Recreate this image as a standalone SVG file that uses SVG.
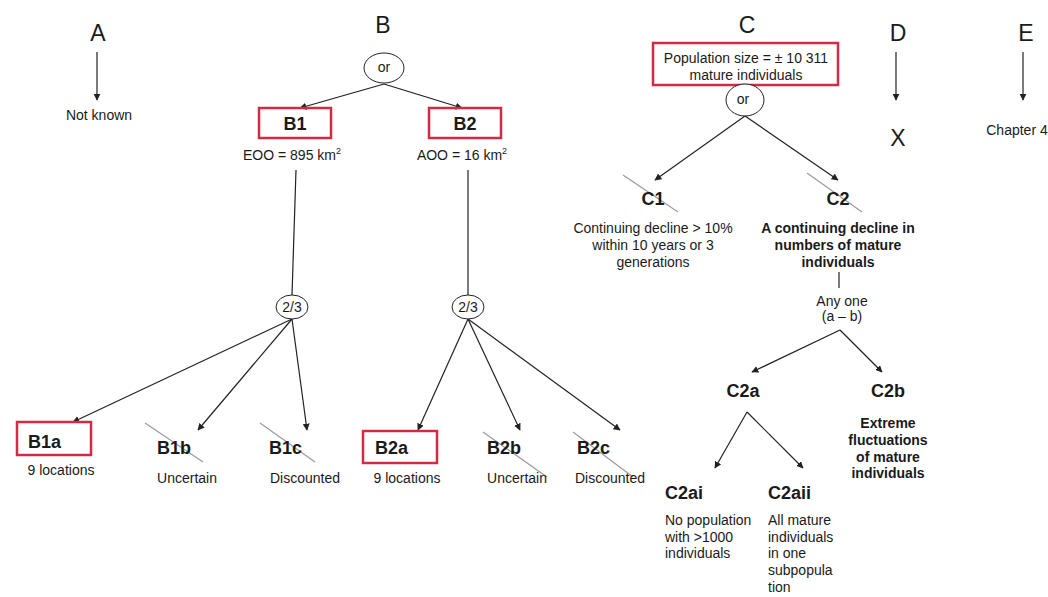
<svg xmlns="http://www.w3.org/2000/svg" width="1048" height="597" viewBox="0 0 1048 597">
<style>
text{font-family:"Liberation Sans",Arial,sans-serif;fill:#1a1a1a}
.hd{font-size:23px}
.lbl{font-size:18px;font-weight:bold}
.sm{font-size:14px}
.smb{font-size:14px;font-weight:bold}
.c{text-anchor:middle}
.box{fill:none;stroke:#d42a45;stroke-width:2.5}
.ell{fill:#fff;stroke:#222;stroke-width:1}
.ln{stroke:#222;stroke-width:1.2;fill:none}
.ar{stroke:#222;stroke-width:1.2;fill:none;marker-end:url(#ah)}
.st{stroke:#9a9a9a;stroke-width:1.2}
</style>
<defs>
<marker id="ah" viewBox="0 0 10 10" refX="9" refY="5" markerWidth="7" markerHeight="7" orient="auto" markerUnits="userSpaceOnUse">
<path d="M0,0 L10,5 L0,10 z" fill="#222"/>
</marker>
</defs>
<rect width="1048" height="597" fill="#fff"/>

<g id="connectors">
<line class="ar" x1="97" y1="52" x2="97" y2="100"/>
<line class="ar" x1="384" y1="84" x2="300" y2="108"/>
<line class="ar" x1="384" y1="84" x2="462" y2="108"/>
<line class="ln" x1="296" y1="170" x2="292" y2="295"/>
<line class="ln" x1="468" y1="170" x2="468" y2="295"/>
<line class="ar" x1="292" y1="319" x2="73" y2="422"/>
<line class="ar" x1="292" y1="319" x2="198" y2="430"/>
<line class="ar" x1="292" y1="319" x2="307" y2="430"/>
<line class="ar" x1="468" y1="319" x2="418" y2="430"/>
<line class="ar" x1="468" y1="319" x2="520" y2="430"/>
<line class="ar" x1="468" y1="319" x2="620" y2="430"/>
<line class="ar" x1="745" y1="116" x2="655" y2="180"/>
<line class="ar" x1="745" y1="116" x2="838" y2="180"/>
<line class="ar" x1="896" y1="52" x2="896" y2="100"/>
<line class="ar" x1="1023" y1="52" x2="1023" y2="100"/>
<line class="ln" x1="839" y1="272" x2="839" y2="288"/>
<line class="ar" x1="840" y1="330" x2="752" y2="372"/>
<line class="ar" x1="840" y1="330" x2="882" y2="372"/>
<line class="ar" x1="747" y1="412" x2="715" y2="468"/>
<line class="ar" x1="747" y1="412" x2="803" y2="468"/>
</g>

<g id="A">
<text class="hd c" x="98" y="41">A</text>
<text class="sm c" x="99" y="120">Not known</text>
</g>

<g id="B">
<text class="hd c" x="383" y="33">B</text>
</g>
<g id="B-or">
<ellipse class="ell" cx="384" cy="68" rx="20" ry="15"/>
<text class="sm c" x="384" y="72">or</text>
</g>
<g id="B1">
<rect class="box" x="259" y="108" width="72" height="30"/>
<text class="lbl c" x="295" y="130">B1</text>
<text class="sm c" x="292" y="160">EOO = 895 km<tspan font-size="9" dy="-6">2</tspan></text>
</g>
<g id="B2">
<rect class="box" x="429" y="108" width="72" height="30"/>
<text class="lbl c" x="465" y="130">B2</text>
<text class="sm c" x="462" y="160">AOO = 16 km<tspan font-size="9" dy="-6">2</tspan></text>
</g>
<g id="B1-23">
<ellipse class="ell" cx="292" cy="307" rx="16" ry="12"/>
<text class="sm c" x="292" y="312">2/3</text>
</g>
<g id="B2-23">
<ellipse class="ell" cx="468" cy="307" rx="16" ry="12"/>
<text class="sm c" x="468" y="312">2/3</text>
</g>
<g id="B1a">
<rect class="box" x="17" y="422" width="74" height="33"/>
<text class="lbl" x="28" y="448">B1a</text>
<text class="sm c" x="61" y="475">9 locations</text>
</g>
<g id="B1b">
<line class="st" x1="145" y1="423" x2="203" y2="462"/>
<text class="lbl" x="157" y="454">B1b</text>
<text class="sm c" x="187" y="483">Uncertain</text>
</g>
<g id="B1c">
<line class="st" x1="260" y1="423" x2="315" y2="462"/>
<text class="lbl" x="269" y="454">B1c</text>
<text class="sm c" x="305" y="483">Discounted</text>
</g>
<g id="B2a">
<rect class="box" x="363" y="431" width="74" height="32"/>
<text class="lbl" x="375" y="454">B2a</text>
<text class="sm c" x="407" y="483">9 locations</text>
</g>
<g id="B2b">
<line class="st" x1="483" y1="432" x2="547" y2="477"/>
<text class="lbl" x="487" y="454">B2b</text>
<text class="sm c" x="517" y="483">Uncertain</text>
</g>
<g id="B2c">
<line class="st" x1="573" y1="432" x2="633" y2="477"/>
<text class="lbl" x="577" y="454">B2c</text>
<text class="sm c" x="610" y="483">Discounted</text>
</g>

<g id="C">
<text class="hd c" x="747" y="33">C</text>
<rect class="box" x="653" y="43" width="185" height="42"/>
<text class="sm c" x="746" y="63">Population size = ± 10 311</text>
<text class="sm c" x="746" y="80">mature individuals</text>
</g>
<g id="C-or">
<ellipse class="ell" cx="745" cy="100" rx="19" ry="16"/>
<text class="sm c" x="743" y="104">or</text>
</g>
<g id="C1">
<line class="st" x1="623" y1="175" x2="678" y2="212"/>
<text class="lbl c" x="653" y="205">C1</text>
<text class="sm c" x="653" y="233">Continuing decline &gt; 10%</text>
<text class="sm c" x="653" y="250">within 10 years or 3</text>
<text class="sm c" x="653" y="267">generations</text>
</g>
<g id="C2">
<line class="st" x1="807" y1="173" x2="862" y2="212"/>
<text class="lbl c" x="838" y="205">C2</text>
<text class="smb c" x="838" y="233">A continuing decline in</text>
<text class="smb c" x="838" y="250">numbers of mature</text>
<text class="smb c" x="838" y="267">individuals</text>
</g>
<g id="anyone">
<text class="sm c" x="842" y="306">Any one</text>
<text class="sm c" x="842" y="321">(a – b)</text>
</g>
<g id="C2a">
<text class="lbl c" x="743" y="397">C2a</text>
</g>
<g id="C2b">
<text class="lbl c" x="888" y="397">C2b</text>
<text class="smb c" x="888" y="428">Extreme</text>
<text class="smb c" x="888" y="445">fluctuations</text>
<text class="smb c" x="888" y="462">of mature</text>
<text class="smb c" x="888" y="478">individuals</text>
</g>
<g id="C2ai">
<text class="lbl" x="665" y="499">C2ai</text>
<text class="sm" x="665" y="525">No population</text>
<text class="sm" x="665" y="542">with &gt;1000</text>
<text class="sm" x="665" y="558">individuals</text>
</g>
<g id="C2aii">
<text class="lbl" x="768" y="499">C2aii</text>
<text class="sm" x="768" y="525">All mature</text>
<text class="sm" x="768" y="542">individuals</text>
<text class="sm" x="768" y="558">in one</text>
<text class="sm" x="768" y="575">subpopula</text>
<text class="sm" x="768" y="592">tion</text>
</g>

<g id="D">
<text class="hd c" x="898" y="41">D</text>
<text class="hd c" x="898" y="146">X</text>
</g>
<g id="E">
<text class="hd c" x="1026" y="41">E</text>
<text class="sm c" x="1017" y="135">Chapter 4</text>
</g>
</svg>
